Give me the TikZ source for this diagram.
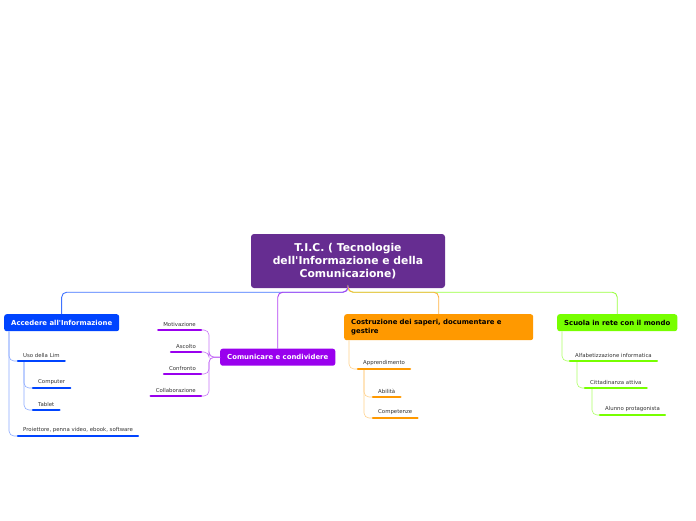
\documentclass[tikz,border=0pt]{standalone}
\usepackage{fontspec}
\setmainfont{DejaVu Sans}
\usepackage{xcolor}
\usepackage{tikz}
\usetikzlibrary{positioning}

\definecolor{ticpurple}{HTML}{662D91}
\definecolor{accblue}{HTML}{0044FF}
\definecolor{compurple}{HTML}{9900EE}
\definecolor{cosorange}{HTML}{FF9900}
\definecolor{scugreen}{HTML}{77FF00}
\definecolor{leaftext}{HTML}{333333}

\begin{document}
\begin{tikzpicture}[x=1pt,y=-1pt]
\tikzstyle{title} = [rectangle, fill=ticpurple, text=white, rounded corners=3pt, align=center, minimum width=194pt, minimum height=54pt, inner sep=0pt, font=\fontsize{10.8}{13}\selectfont\bfseries]
\tikzstyle{topic} = [rectangle, rounded corners=2.5pt, anchor=north west, minimum height=17pt, inner xsep=7pt, inner ysep=0pt, font=\fontsize{6.9}{8.4}\selectfont\bfseries]
\tikzstyle{leaf} = [inner xsep=5pt, inner ysep=3pt, text=leaftext, font=\fontsize{5.4}{6.5}\selectfont]
\tikzstyle{link} = [draw, line width=0.9pt, rounded corners=5pt]
\tikzstyle{uline} = [draw, line width=2.2pt, line cap=round]

\useasboundingbox (0,0) rectangle (696,520);

% central node
\node [title] (tic) at (348,261) {T.I.C. ( Tecnologie\\dell\textquotesingle Informazione e della\\Comunicazione)};

% main topics
\node [topic, fill=accblue, text=white] (acc) at (4,314) {Accedere all\textquotesingle Informazione};
\node [topic, fill=compurple, text=white] (com) at (220,348.5) {Comunicare e condividere};
\node [topic, fill=cosorange, text=black, text width=175pt, align=left, minimum height=26pt] (cos) at (344,314) {Costruzione dei saperi, documentare e\\gestire};
\node [topic, fill=scugreen, text=black] (scu) at (557,314) {Scuola in rete con il mondo};

% leaves
\node [leaf, anchor=south west] (uso) at (18,361) {Uso della Lim};
\node [leaf, anchor=south west] (comp) at (33,388) {Computer};
\node [leaf, anchor=south west] (tab) at (33,410) {Tablet};
\node [leaf, anchor=south west] (proj) at (18,436) {Proiettore, penna video, ebook, software};

\node [leaf, anchor=south east] (mot) at (201,330) {Motivazione};
\node [leaf, anchor=south east] (asc) at (201,352) {Ascolto};
\node [leaf, anchor=south east] (conf) at (201,374) {Confronto};
\node [leaf, anchor=south east] (coll) at (201,396) {Collaborazione};

\node [leaf, anchor=south west] (app) at (358,369) {Apprendimento};
\node [leaf, anchor=south west] (abi) at (373,397) {Abilità};
\node [leaf, anchor=south west] (compe) at (373,418) {Competenze};

\node [leaf, anchor=south west] (alf) at (570,361) {Alfabetizzazione informatica};
\node [leaf, anchor=south west] (cit) at (585,388) {Cittadinanza attiva};
\node [leaf, anchor=south west] (alu) at (600,415) {Alunno protagonista};

% connectors from the centre
\path [link, draw=accblue!75] (tic.south) -- ++(0,4) -| (acc.north);
\path [link, draw=scugreen!75] (tic.south) -- ++(0,4) -| (scu.north);
\path [link, draw=cosorange!75] (tic.south) -- ++(0,4) -| (cos.north);
\path [link, draw=compurple!75] (tic.south) -- ++(0,4) -| (com.north);

% sub-connectors
\path [link, line width=0.6pt, draw=accblue!45] (acc.south west) ++(5,0) |- (uso.south west);
\path [link, line width=0.6pt, draw=accblue!45] (acc.south west) ++(5,0) |- (proj.south west);
\path [link, line width=0.6pt, draw=accblue!45] (uso.south west) ++(6,0) |- (comp.south west);
\path [link, line width=0.6pt, draw=accblue!45] (uso.south west) ++(6,0) |- (tab.south west);

\path [link, line width=0.6pt, draw=compurple!55] (com.west) -- ++(-11,0) |- (mot.south east);
\path [link, line width=0.6pt, draw=compurple!55] (com.west) -- ++(-11,0) |- (asc.south east);
\path [link, line width=0.6pt, draw=compurple!55] (com.west) -- ++(-11,0) |- (conf.south east);
\path [link, line width=0.6pt, draw=compurple!55] (com.west) -- ++(-11,0) |- (coll.south east);

\path [link, line width=0.6pt, draw=cosorange!45] (cos.south west) ++(5,0) |- (app.south west);
\path [link, line width=0.6pt, draw=cosorange!45] (app.south west) ++(6,0) |- (abi.south west);
\path [link, line width=0.6pt, draw=cosorange!45] (app.south west) ++(6,0) |- (compe.south west);

\path [link, line width=0.6pt, draw=scugreen!60] (scu.south west) ++(5,0) |- (alf.south west);
\path [link, line width=0.6pt, draw=scugreen!60] (alf.south west) ++(7,0) |- (cit.south west);
\path [link, line width=0.6pt, draw=scugreen!60] (cit.south west) ++(7,0) |- (alu.south west);

% underlines
\foreach \n/\c in {uso/accblue, comp/accblue, tab/accblue, proj/accblue,
                   mot/compurple, asc/compurple, conf/compurple, coll/compurple,
                   app/cosorange, abi/cosorange, compe/cosorange,
                   alf/scugreen, cit/scugreen, alu/scugreen}
  \path [uline, draw=\c] (\n.south west) -- (\n.south east);

\end{tikzpicture}
\end{document}
